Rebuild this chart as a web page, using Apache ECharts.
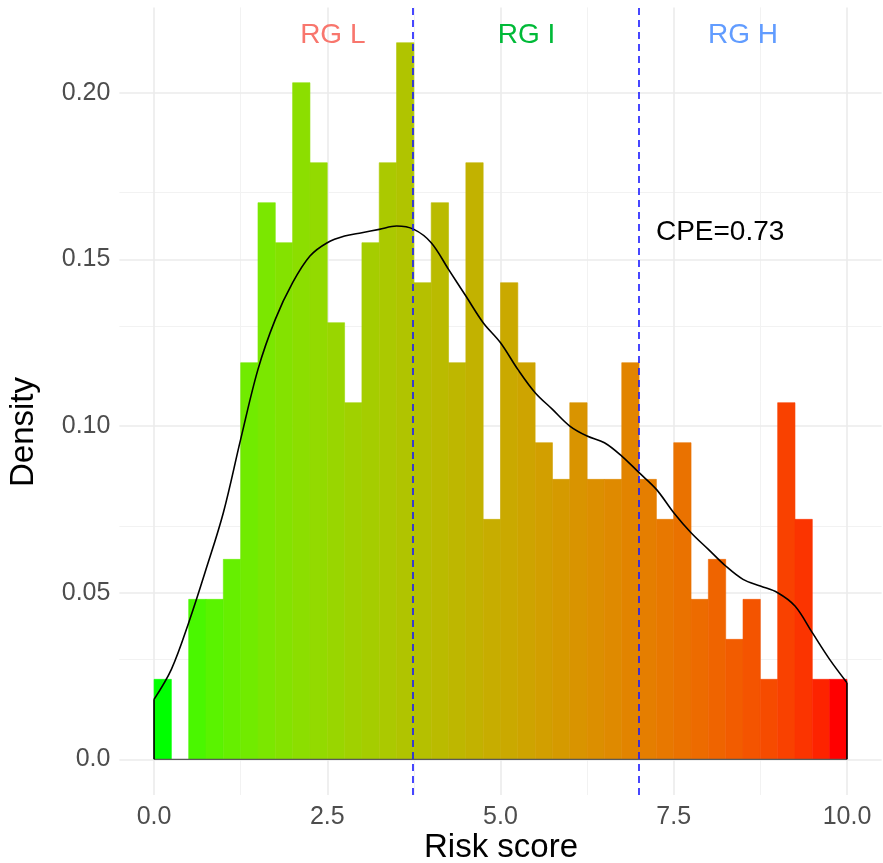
<!DOCTYPE html>
<html>
<head>
<meta charset="utf-8">
<script src="https://cdn.jsdelivr.net/npm/echarts@6/dist/echarts.min.js"></script>
<style>
  html, body { margin: 0; padding: 0; background: #ffffff; }
  #chart { width: 883px; height: 863px; }
</style>
</head>
<body>
<div id="chart"></div>
<script>
// Histogram bins of the risk score (density scale)
const binStart = 0;
const binWidth = 0.25;
const densities = [
  0.024, 0.000, 0.048, 0.048, 0.060, 0.119, 0.167, 0.155, 0.203, 0.179,
  0.131, 0.107, 0.155, 0.179, 0.215, 0.143, 0.167, 0.119, 0.179, 0.072,
  0.143, 0.119, 0.095, 0.084, 0.107, 0.084, 0.084, 0.119, 0.084, 0.072,
  0.095, 0.048, 0.060, 0.036, 0.048, 0.024, 0.107, 0.072, 0.024, 0.024
];

// Kernel density estimate of the same scores
const curveX = [0, 0.25, 0.5, 0.75, 1.0, 1.25, 1.5, 1.75, 2.0, 2.25, 2.5, 2.75, 3.0, 3.25,
  3.5, 3.75, 4.0, 4.25, 4.5, 4.75, 5.0, 5.25, 5.5, 5.75, 6.0, 6.25, 6.5, 6.75, 7.0,
  7.25, 7.5, 7.75, 8.0, 8.25, 8.5, 8.75, 9.0, 9.25, 9.5, 9.75, 10.0];
const curveY = [0.018, 0.027, 0.041, 0.057, 0.074, 0.096, 0.117, 0.132, 0.143, 0.151, 0.155, 0.157, 0.158, 0.159,
  0.160, 0.159, 0.155, 0.147, 0.139, 0.131, 0.125, 0.117, 0.110, 0.105, 0.100, 0.097, 0.095, 0.091, 0.086,
  0.081, 0.074, 0.068, 0.063, 0.058, 0.054, 0.052, 0.050, 0.046, 0.038, 0.030, 0.023];

// Risk group cut-offs and labels
const cutoffs = [3.73, 6.99];
const groupLabels = ['RG L', 'RG I', 'RG H'];
const groupLabelX = [2.58, 5.375, 8.5];
const groupLabelY = 0.2173;
const groupColors = ['#F8766D', '#00BA38', '#619CFF'];
const cpeText = 'CPE=0.73';
const cpePos = [8.17, 0.1582];

// Axis ticks
const xTicks = [0, 2.5, 5, 7.5, 10];
const xTickLabels = ['0.0', '2.5', '5.0', '7.5', '10.0'];
const xMinorTicks = [1.25, 3.75, 6.25, 8.75];
const yTicks = [0, 0.05, 0.1, 0.15, 0.2];
const yTickLabels = ['0.0', '0.05', '0.10', '0.15', '0.20'];
const yMinorTicks = [0.025, 0.075, 0.125, 0.175, 0.225];

// Green -> red fill interpolated in CIE Lab
function toLinear(c) { c /= 255; return c <= 0.04045 ? c / 12.92 : Math.pow((c + 0.055) / 1.055, 2.4); }
function fromLinear(c) { c = c <= 0.0031308 ? 12.92 * c : 1.055 * Math.pow(c, 1 / 2.4) - 0.055; return Math.max(0, Math.min(255, Math.round(c * 255))); }
function rgbToLab(rgb) {
  const r = toLinear(rgb[0]), g = toLinear(rgb[1]), b = toLinear(rgb[2]);
  const X = (0.4124 * r + 0.3576 * g + 0.1805 * b) / 0.95047;
  const Y = (0.2126 * r + 0.7152 * g + 0.0722 * b);
  const Z = (0.0193 * r + 0.1192 * g + 0.9505 * b) / 1.08883;
  const f = t => t > 0.008856 ? Math.cbrt(t) : 7.787 * t + 16 / 116;
  const fx = f(X), fy = f(Y), fz = f(Z);
  return [116 * fy - 16, 500 * (fx - fy), 200 * (fy - fz)];
}
function labToRgb(lab) {
  const fy = (lab[0] + 16) / 116, fx = fy + lab[1] / 500, fz = fy - lab[2] / 200;
  const inv = t => t * t * t > 0.008856 ? t * t * t : (t - 16 / 116) / 7.787;
  const X = inv(fx) * 0.95047, Y = inv(fy), Z = inv(fz) * 1.08883;
  const r = 3.2406 * X - 1.5372 * Y - 0.4986 * Z;
  const g = -0.9689 * X + 1.8758 * Y + 0.0415 * Z;
  const b = 0.0557 * X - 0.2040 * Y + 1.0570 * Z;
  return 'rgb(' + fromLinear(r) + ',' + fromLinear(g) + ',' + fromLinear(b) + ')';
}
const labLow = rgbToLab([0, 255, 0]);
const labHigh = rgbToLab([255, 0, 0]);
function fillAt(t) {
  return labToRgb([0, 1, 2].map(k => labLow[k] + (labHigh[k] - labLow[k]) * t));
}

const barData = densities.map((d, i) => [binStart + i * binWidth, binStart + (i + 1) * binWidth, d, i]);
const curveData = curveX.map((x, i) => [x, curveY[i]]);
const annotations = groupLabels.map((t, i) => [groupLabelX[i], groupLabelY, t, groupColors[i]])
  .concat([[cpePos[0], cpePos[1], cpeText, '#000000']]);
const fontFamily = '"Liberation Sans", Arial, Helvetica, sans-serif';

function lookup(ticks, labels) {
  return v => {
    for (let i = 0; i < ticks.length; i++) if (Math.abs(ticks[i] - v) < 1e-9) return labels[i];
    return '';
  };
}

const gridMajor = { color: '#ebebeb', width: 1.6, type: 'solid' };
const gridMinor = { color: '#f2f2f2', width: 1, type: 'solid' };

const chart = echarts.init(document.getElementById('chart'), null, { renderer: 'canvas' });
chart.setOption({
  backgroundColor: '#ffffff',
  animation: false,
  grid: { left: 119.4, right: 1.4, top: 7.4, bottom: 68 },
  xAxis: {
    type: 'value', min: -0.5, max: 10.5,
    splitLine: { show: false }, axisLine: { show: false }, axisTick: { show: false },
    axisLabel: {
      customValues: xTicks, formatter: lookup(xTicks, xTickLabels),
      fontSize: 25, color: '#4d4d4d', fontFamily: fontFamily, margin: 10
    }
  },
  yAxis: {
    type: 'value', min: -0.0107, max: 0.2256,
    splitLine: { show: false }, axisLine: { show: false }, axisTick: { show: false },
    axisLabel: {
      customValues: yTicks, formatter: lookup(yTicks, yTickLabels),
      fontSize: 25, color: '#4d4d4d', fontFamily: fontFamily, margin: 9
    }
  },
  graphic: [
    {
      type: 'text', x: 24, y: 432, rotation: Math.PI / 2,
      style: { text: 'Density', fontSize: 33, fontFamily: fontFamily, fill: '#000', align: 'center', verticalAlign: 'middle' }
    },
    {
      type: 'text', x: 501, y: 848,
      style: { text: 'Risk score', fontSize: 33, fontFamily: fontFamily, fill: '#000', align: 'center', verticalAlign: 'middle' }
    }
  ],
  series: [
    {
      // panel grid lines
      type: 'line', data: [], silent: true, z: 1,
      markLine: {
        silent: true, symbol: 'none', label: { show: false }, animation: false, z: 1,
        data: []
          .concat(xMinorTicks.map(v => ({ xAxis: v, lineStyle: gridMinor })))
          .concat(yMinorTicks.map(v => ({ yAxis: v, lineStyle: gridMinor })))
          .concat(xTicks.map(v => ({ xAxis: v, lineStyle: gridMajor })))
          .concat(yTicks.map(v => ({ yAxis: v, lineStyle: gridMajor })))
      }
    },
    {
      type: 'custom', z: 3, silent: true,
      data: barData,
      encode: { x: [0, 1], y: 2 },
      renderItem: function (params, api) {
        const x0 = api.value(0), x1 = api.value(1), d = api.value(2), i = api.value(3);
        if (!d) return null;
        const p0 = api.coord([x0, d]);
        const p1 = api.coord([x1, 0]);
        const c = fillAt(i / (densities.length - 1));
        return {
          type: 'rect',
          shape: { x: p0[0], y: p0[1], width: p1[0] - p0[0], height: p1[1] - p0[1] },
          style: { fill: c, stroke: c, lineWidth: 0.6 }
        };
      }
    },
    {
      // baseline of the density outline
      type: 'line', z: 4, silent: true, symbol: 'none',
      data: [[0, 0], [10, 0]],
      lineStyle: { color: '#5a5a5a', width: 1.2 }
    },
    {
      type: 'line', z: 5, silent: true, symbol: 'none',
      data: [[0, 0], [0, curveY[0]]],
      lineStyle: { color: '#000', width: 1.6 }
    },
    {
      type: 'line', z: 5, silent: true, symbol: 'none',
      data: [[10, 0], [10, curveY[curveY.length - 1]]],
      lineStyle: { color: '#000', width: 1.6 }
    },
    {
      type: 'line', z: 5, silent: true, symbol: 'none', smooth: 0.35,
      data: curveData,
      lineStyle: { color: '#000', width: 1.6 }
    },
    {
      // risk group cut-offs
      type: 'line', data: [], silent: true, z: 8,
      markLine: {
        silent: true, symbol: 'none', label: { show: false }, animation: false, z: 8,
        lineStyle: { color: '#1a1aff', width: 1.6, type: [7, 5] },
        data: cutoffs.map(v => ({ xAxis: v }))
      }
    },
    {
      // group labels and concordance text
      type: 'custom', z: 9, silent: true,
      data: annotations,
      encode: { x: 0, y: 1 },
      renderItem: function (params, api) {
        const item = annotations[params.dataIndex];
        const p = api.coord([item[0], item[1]]);
        return {
          type: 'text', x: p[0], y: p[1],
          style: { text: item[2], fill: item[3], fontSize: 28, fontFamily: fontFamily, align: 'center', verticalAlign: 'middle' }
        };
      }
    }
  ]
});
</script>
</body>
</html>
